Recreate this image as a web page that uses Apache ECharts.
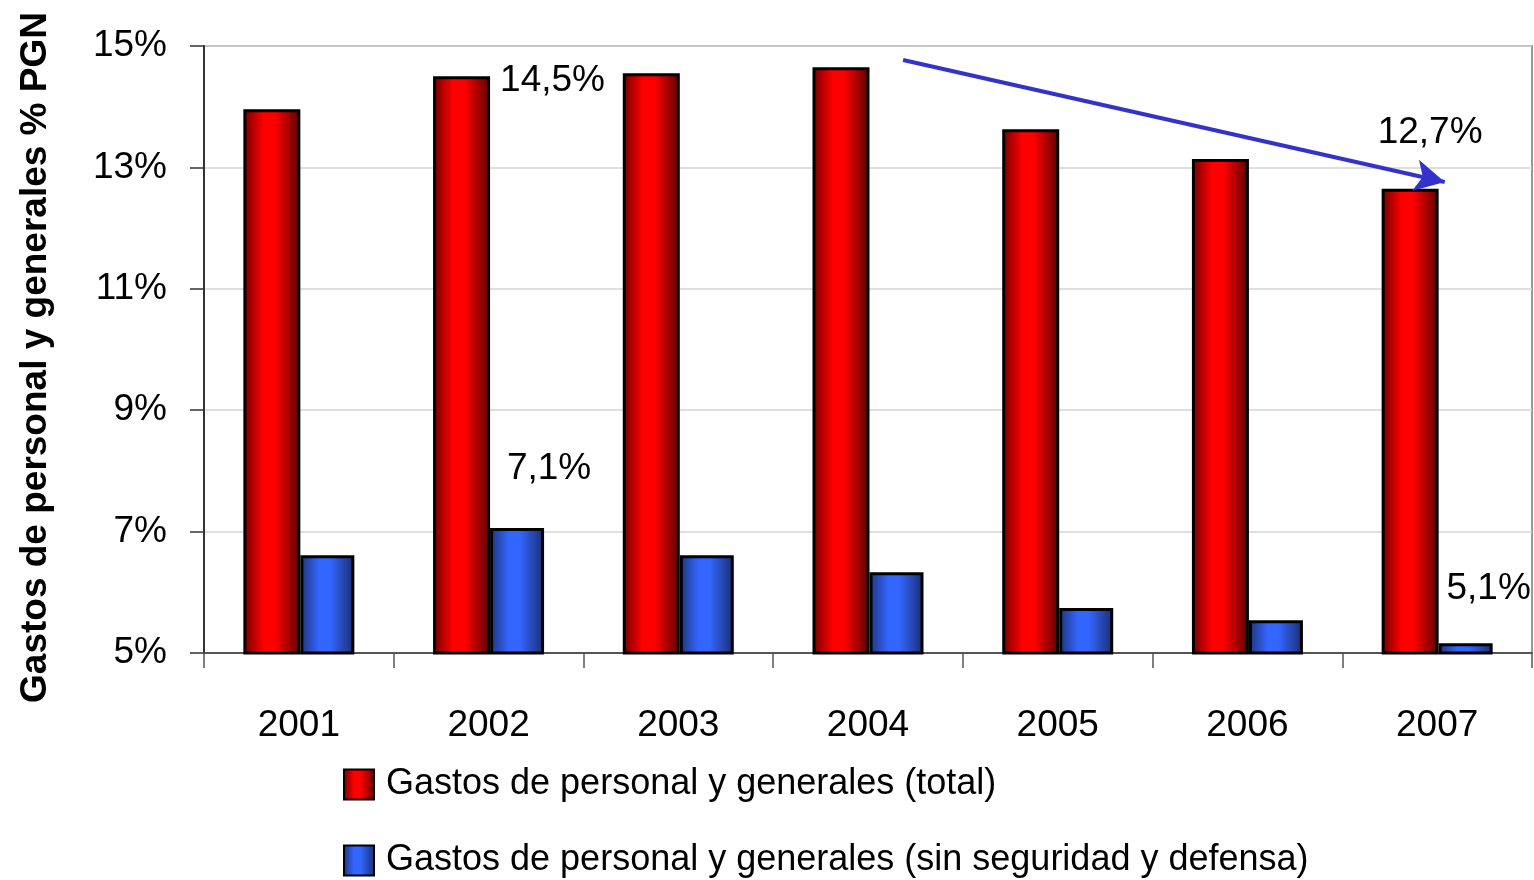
<!DOCTYPE html>
<html lang="es">
<head>
<meta charset="UTF-8">
<title>Gastos de personal y generales % PGN</title>
<script src="https://cdn.jsdelivr.net/npm/echarts@6/dist/echarts.min.js"></script>
<style>
html, body { margin: 0; padding: 0; background: #fff; }
#chart { width: 1534px; height: 880px; }
</style>
</head>
<body>
<div id="chart"></div>
<script>
const years = ['2001', '2002', '2003', '2004', '2005', '2006', '2007'];
const totalValues = [13.96, 14.5, 14.55, 14.65, 13.63, 13.14, 12.65];
const sinSegValues = [6.61, 7.06, 6.61, 6.33, 5.74, 5.54, 5.16];
const totalNotes = ['', '14,5%', '', '', '', '', '12,7%'];
const sinSegNotes = ['', '7,1%', '', '', '', '', '5,1%'];
const yTicks = [5, 7, 9, 11, 13, 15];
// trend arrow, [category index, value]
const trendFrom = [3, 14.77];
const trendTo = [6, 12.76];

const font = '"Liberation Sans", Arial, sans-serif';
const fs = 37;

function barGradient(dark, light, darker) {
  return {
    type: 'linear', x: 0, y: 0, x2: 1, y2: 0,
    colorStops: [
      { offset: 0, color: dark },
      { offset: 0.35, color: light },
      { offset: 0.55, color: light },
      { offset: 1, color: darker }
    ]
  };
}

const redFill = barGradient('#6e0000', '#ff0000', '#5a0000');
const blueFill = barGradient('#1e347a', '#3366ff', '#1a2d70');

function noteItems(values, notes, labelCfg) {
  return values.map((v, i) => {
    if (!notes[i]) return v;
    return { value: v, label: Object.assign({ show: true, formatter: notes[i] }, labelCfg[notes[i]]) };
  });
}

const noteLabelStyle = { fontFamily: font, fontSize: fs, color: '#000', lineHeight: fs };

const chart = echarts.init(document.getElementById('chart'));
chart.setOption({
  animation: false,
  grid: {
    left: 204, right: 2, top: 46, bottom: 227,
    containLabel: false,
    outerBoundsMode: 'none',
    show: true, borderColor: '#999', borderWidth: 2, backgroundColor: 'transparent'
  },
  legend: {
    orient: 'vertical',
    left: 343,
    top: 766,
    padding: 0,
    itemWidth: 30,
    itemHeight: 30,
    itemGap: 39,
    icon: 'rect',
    textStyle: { fontFamily: font, fontSize: 36, color: '#000', lineHeight: fs, padding: [0, 0, 0, 7] },
    data: ['Gastos de personal y generales (total)', 'Gastos de personal y generales (sin seguridad y defensa)']
  },
  xAxis: {
    type: 'category',
    data: years,
    axisLine: { lineStyle: { color: '#555', width: 2 } },
    axisTick: { show: true, length: 15, lineStyle: { color: '#555', width: 1.5 } },
    axisLabel: { fontFamily: font, fontSize: fs, color: '#000', margin: 54 }
  },
  yAxis: {
    type: 'value',
    min: yTicks[0],
    max: yTicks[yTicks.length - 1],
    interval: 2,
    name: 'Gastos de personal y generales % PGN',
    nameLocation: 'middle',
    nameRotate: 90,
    nameGap: 150,
    nameTextStyle: { fontFamily: font, fontSize: fs, fontWeight: 'bold', color: '#000', padding: [0, 16, 0, 0] },
    axisLine: { show: true, lineStyle: { color: '#333', width: 2 } },
    axisTick: { show: true, length: 14, lineStyle: { color: '#333', width: 1.5 } },
    axisLabel: { fontFamily: font, fontSize: fs, color: '#000', margin: 37, formatter: '{value}%' },
    splitLine: { lineStyle: { color: '#d4d4d4', width: 1.5 } }
  },
  series: [
    {
      name: 'Gastos de personal y generales (total)',
      type: 'bar',
      barWidth: 57,
      barGap: '0%',
      itemStyle: { color: redFill, borderColor: '#000', borderWidth: 3 },
      data: noteItems(totalValues, totalNotes, {
        '14,5%': Object.assign({ position: ['100%', 0], offset: [10, 4], align: 'left', verticalAlign: 'middle' }, noteLabelStyle),
        '12,7%': Object.assign({ position: 'top', distance: 37, offset: [20, 0] }, noteLabelStyle)
      })
    },
    {
      name: 'Gastos de personal y generales (sin seguridad y defensa)',
      type: 'bar',
      barWidth: 54,
      barGap: '0%',
      itemStyle: { color: blueFill, borderColor: '#000', borderWidth: 3 },
      data: noteItems(sinSegValues, sinSegNotes, {
        '7,1%': Object.assign({ position: 'top', distance: 41, offset: [32, 0] }, noteLabelStyle),
        '5,1%': Object.assign({ position: 'top', distance: 36, offset: [23, 0] }, noteLabelStyle)
      })
    }
  ]
});

// trend arrow placed from data space
const p0 = chart.convertToPixel({ gridIndex: 0 }, [trendFrom[0], trendFrom[1]]);
const p1 = chart.convertToPixel({ gridIndex: 0 }, [trendTo[0], trendTo[1]]);
const band = chart.convertToPixel({ gridIndex: 0 }, [1, 5])[0] - chart.convertToPixel({ gridIndex: 0 }, [0, 5])[0];
chart.setOption({
  series: [{
    markLine: {
      silent: true,
      symbol: ['none', 'arrow'],
      symbolSize: [24, 30],
      label: { show: false },
      lineStyle: { color: '#3333cc', width: 4, type: 'solid' },
      data: [[
        { x: p0[0] + band * 0.185, y: p0[1] },
        { x: p1[0] + band * 0.04, y: p1[1] }
      ]]
    }
  }]
});
</script>
</body>
</html>
